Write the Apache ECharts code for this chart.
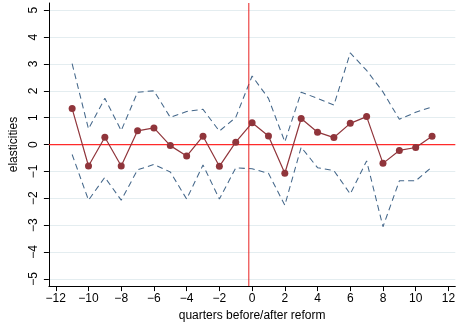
<!DOCTYPE html>
<html>
<head>
<meta charset="utf-8">
<script src="https://cdn.jsdelivr.net/npm/echarts@6/dist/echarts.min.js"></script>
<style>
html,body{margin:0;padding:0;background:#fff;}
#chart{width:458px;height:327px;}
</style>
</head>
<body>
<div id="chart"></div>
<script>
var quarters = [-11,-10,-9,-8,-7,-6,-5,-4,-3,-2,-1,0,1,2,3,4,5,6,7,8,9,10,11];
var estimate = [1.34,-0.80,0.27,-0.80,0.51,0.62,-0.04,-0.43,0.31,-0.81,0.09,0.81,0.32,-1.07,0.97,0.46,0.26,0.79,1.04,-0.70,-0.22,-0.11,0.31];
var upperCI  = [3.01,0.58,1.72,0.52,1.95,2.00,1.01,1.23,1.31,0.50,1.01,2.55,1.72,0.10,1.95,1.72,1.47,3.41,2.76,1.96,0.94,1.20,1.40];
var lowerCI  = [-0.37,-2.07,-1.22,-2.07,-0.94,-0.74,-1.02,-2.03,-0.76,-2.03,-0.87,-0.90,-1.07,-2.26,-0.10,-0.86,-0.97,-1.84,-0.61,-3.06,-1.35,-1.35,-0.83];
var xTicks = [-12,-10,-8,-6,-4,-2,0,2,4,6,8,10,12];
var yTicks = [-5,-4,-3,-2,-1,0,1,2,3,4,5];
var reformLine = -0.2;
var zeroLine = 0;
var xRange = [-12.42, 12.42];
var yRange = [-5.27, 5.27];

function pairs(ys){ return quarters.map(function(q,i){ return [q, ys[i]]; }); }
function fmt(v){ return v < 0 ? '\u2212' + Math.abs(v) : String(v); }

var font = 'Liberation Sans, Arial, Helvetica, sans-serif';
var chart = echarts.init(document.getElementById('chart'), null, {renderer:'canvas'});
chart.setOption({
  animation: false,
  backgroundColor: '#ffffff',
  grid: {left: 43, top: 3, width: 414, height: 287, containLabel: false},
  xAxis: {
    type: 'value', min: xRange[0], max: xRange[1],
    name: 'quarters before/after reform', nameLocation: 'middle', nameGap: 20,
    nameTextStyle: {fontFamily: font, fontSize: 12, color: '#000'},
    axisLine: {show: true, onZero: false, lineStyle: {color: '#000', width: 1}},
    axisTick: {show: true, length: 5, customValues: xTicks, lineStyle: {color: '#000', width: 1}},
    axisLabel: {customValues: xTicks, formatter: fmt, margin: 7, fontFamily: font, fontSize: 12, color: '#000'},
    splitLine: {show: false}
  },
  yAxis: {
    type: 'value', min: yRange[0], max: yRange[1],
    name: 'elasticities', nameLocation: 'middle', nameGap: 25, nameRotate: 90,
    nameTextStyle: {fontFamily: font, fontSize: 12, color: '#000'},
    axisLine: {show: true, onZero: false, lineStyle: {color: '#000', width: 1}},
    axisTick: {show: true, length: 5, customValues: yTicks, lineStyle: {color: '#000', width: 1}},
    axisLabel: {customValues: yTicks, formatter: fmt, rotate: 90, margin: 9, fontFamily: font, fontSize: 12, color: '#000'},
    splitLine: {show: true, lineStyle: {color: '#e4edf0', width: 1}}
  },
  series: [
    {
      type: 'line', name: 'upper', data: pairs(upperCI), symbol: 'none', z: 3,
      lineStyle: {color: '#44678a', width: 1.05, type: [6, 4]}
    },
    {
      type: 'line', name: 'lower', data: pairs(lowerCI), symbol: 'none', z: 3,
      lineStyle: {color: '#44678a', width: 1.05, type: [6, 4]}
    },
    {
      type: 'line', name: 'zero', z: 4, symbol: 'none',
      data: [[xRange[0], zeroLine], [xRange[1], zeroLine]],
      lineStyle: {color: '#ff2a2a', width: 1.3}
    },
    {
      type: 'line', name: 'reform', z: 4, symbol: 'none',
      data: [[reformLine, yRange[0]], [reformLine, yRange[1]]],
      lineStyle: {color: '#e82020', width: 1}
    },
    {
      type: 'line', name: 'estimate', data: pairs(estimate), z: 5,
      symbol: 'circle', symbolSize: 7,
      itemStyle: {color: '#90353b'},
      lineStyle: {color: '#90353b', width: 1.2}
    }
  ]
});
</script>
</body>
</html>
